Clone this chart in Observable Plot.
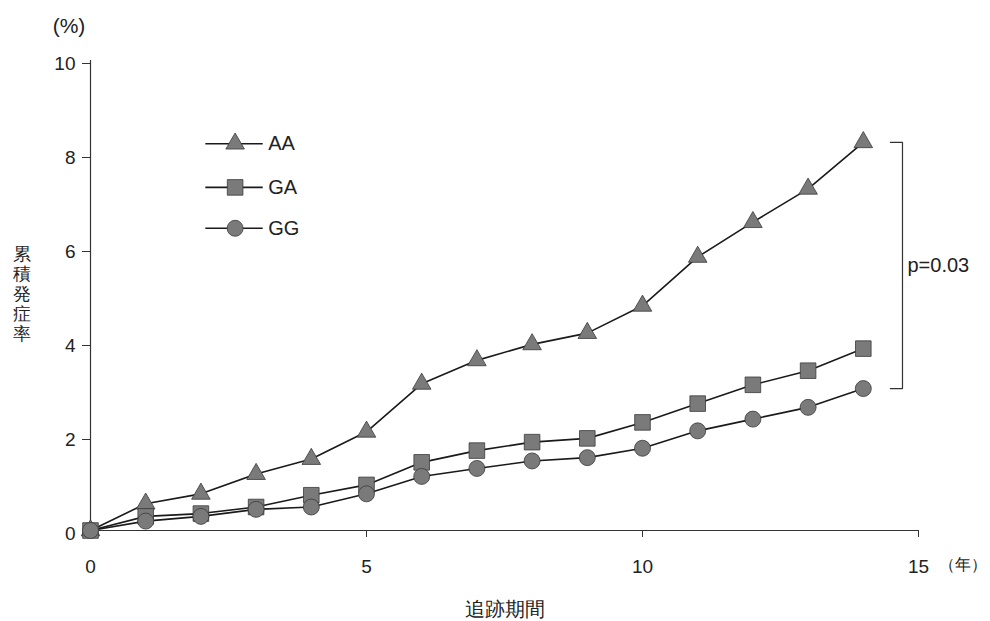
<!DOCTYPE html>
<html>
<head>
<meta charset="utf-8">
<script src="https://cdn.jsdelivr.net/npm/d3@7"></script>
<script src="https://cdn.jsdelivr.net/npm/@observablehq/plot@0.6"></script>
<style>
  html, body { margin: 0; padding: 0; background: #fff; }
  #chart { width: 990px; height: 621px; }
  svg text { font-family: "Liberation Sans", Arial, sans-serif; }
</style>
</head>
<body>
<div id="chart"></div>
<script>
// ---- data ----
const years = [0, 1, 2, 3, 4, 5, 6, 7, 8, 9, 10, 11, 12, 13, 14];
const AA = [0, 0.57, 0.78, 1.2, 1.52, 2.1, 3.12, 3.62, 3.96, 4.2, 4.78, 5.82, 6.56, 7.27, 8.26];
const GA = [0, 0.3, 0.36, 0.5, 0.75, 0.97, 1.45, 1.7, 1.88, 1.96, 2.3, 2.7, 3.1, 3.4, 3.87];
const GG = [0, 0.2, 0.3, 0.45, 0.5, 0.78, 1.15, 1.32, 1.48, 1.55, 1.75, 2.12, 2.37, 2.62, 3.02];
const seriesNames = ["AA", "GA", "GG"];
const seriesSymbols = ["triangle", "square", "circle"];
const xTicks = [0, 5, 10, 15];
const yTicks = [0, 2, 4, 6, 8, 10];
const pLabel = "p=0.03";
const xTitle = "追跡期間";
const xUnit = "（年）";
const yUnit = "(%)";
const yTitle = "累積発症率";

// ---- build table ----
const seriesValues = [AA, GA, GG];
const rows = [];
seriesNames.forEach((name, i) => {
  years.forEach((yr, j) => rows.push({series: name, year: yr, value: seriesValues[i][j]}));
});

const symbolFor = Object.fromEntries(seriesNames.map((n, i) => [n, seriesSymbols[i]]));
const rFor = {triangle: 6.9, square: 8.8, circle: 8.0};

// legend layout (in data coordinates)
const legendYs = [8.23, 7.3, 6.43];
const legendRows = seriesNames.map((n, i) => ({series: n, y: legendYs[i]}));

const lastAA = AA[AA.length - 1];
const lastGG = GG[GG.length - 1];
const bx0 = 14.49, bx1 = 14.71;

const lineColor = "#1a1a1a";
const markerFill = "#7a7a7a";
const markerStroke = "#3a3a3a";

const plot = Plot.plot({
  width: 990,
  height: 621,
  marginLeft: 90,
  marginRight: 72,
  marginTop: 60,
  marginBottom: 91,
  style: {fontSize: "19px", fontFamily: "'Liberation Sans', Arial, sans-serif", color: "#222", background: "#fff"},
  x: {domain: [0, 15]},
  y: {domain: [0, 10]},
  marks: [
    Plot.axisX({ticks: xTicks, tickSize: 7, tickPadding: 22, label: null, fontSize: 19, stroke: "#333"}),
    Plot.axisY({ticks: yTicks, tickSize: 8, tickPadding: 7, label: null, fontSize: 19, dy: 3, stroke: "#333"}),
    Plot.ruleX([0], {stroke: "#333", strokeWidth: 1.2}),
    Plot.ruleY([0], {stroke: "#333", strokeWidth: 1.2}),
    // series lines
    Plot.line(rows, {x: "year", y: "value", z: "series", stroke: lineColor, strokeWidth: 1.6}),
    // markers
    ...seriesNames.map(n => Plot.dot(rows.filter(d => d.series === n), {
      x: "year", y: "value", symbol: symbolFor[n], r: rFor[symbolFor[n]],
      fill: markerFill, stroke: markerStroke, strokeWidth: 0.8
    })),
    // legend
    Plot.link(legendRows, {x1: 2.08, x2: 3.12, y1: "y", y2: "y", stroke: lineColor, strokeWidth: 1.6}),
    ...legendRows.map(d => Plot.dot([d], {
      x: 2.62, y: "y", symbol: symbolFor[d.series], r: rFor[symbolFor[d.series]],
      fill: markerFill, stroke: markerStroke, strokeWidth: 0.8
    })),
    Plot.text(legendRows, {x: 3.22, y: "y", text: "series", textAnchor: "start", fontSize: 20, fill: "#222"}),
    // bracket
    Plot.line([[bx0, lastAA], [bx1, lastAA], [bx1, lastGG], [bx0, lastGG]], {stroke: "#333", strokeWidth: 1.2}),
    Plot.text([pLabel], {x: bx1 + 0.09, y: (lastAA + lastGG) / 2, text: d => d, textAnchor: "start", fontSize: 20, fill: "#222"})
  ]
});

const root = document.getElementById("chart");
root.appendChild(plot);

// axis titles
const svg = d3.select(plot);
const font = "'Liberation Sans', Arial, sans-serif";
svg.append("text").attr("x", 69).attr("y", 27).attr("text-anchor", "middle")
  .attr("dominant-baseline", "middle").attr("font-size", 21).attr("fill", "#222")
  .attr("font-family", font).text(yUnit);
svg.append("text").attr("x", 987).attr("y", 566).attr("text-anchor", "end")
  .attr("dominant-baseline", "middle").attr("font-size", 16).attr("fill", "#222")
  .attr("font-family", "'Noto Sans CJK JP', sans-serif").text(xUnit);
svg.append("text").attr("x", 505).attr("y", 611).attr("text-anchor", "middle")
  .attr("dominant-baseline", "middle").attr("font-size", 20).attr("fill", "#222")
  .attr("font-family", "'Noto Sans CJK JP', sans-serif").text(xTitle);
const yt = svg.append("text").attr("font-size", 18).attr("fill", "#222")
  .attr("font-family", "'Noto Sans CJK JP', sans-serif").attr("text-anchor", "middle");
Array.from(yTitle).forEach((ch, i) => {
  yt.append("tspan").attr("x", 22).attr("y", 260 + i * 20).text(ch);
});
</script>
</body>
</html>
